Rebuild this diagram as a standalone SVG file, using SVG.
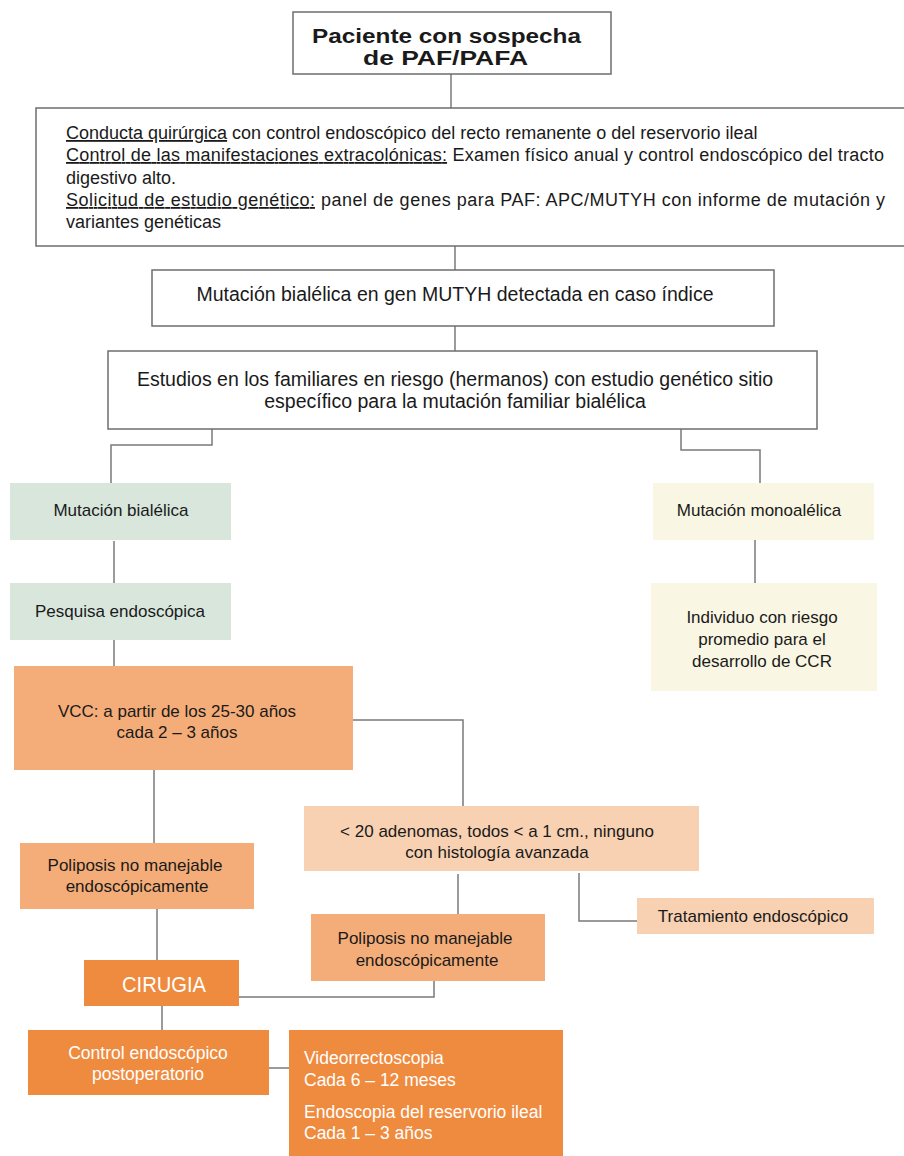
<svg xmlns="http://www.w3.org/2000/svg" width="904" height="1156" viewBox="0 0 904 1156">
<style>
text{font-family:"Liberation Sans",Arial,sans-serif;fill:#1a1a1a}
.b{stroke:#6e6e6e;stroke-width:1.5;fill:#fff}
.c{stroke:#7a7a7a;stroke-width:1.5;fill:none}
.t18{font-size:18px}
.t17{font-size:17px}
.t175{font-size:17.5px}
.t19{font-size:19.5px}
.m{text-anchor:middle}
.w{fill:#fff}
.green{fill:#d8e6dc}
.yel{fill:#f9f6e3}
.or{fill:#f4ad78}
.pe{fill:#f8d1b2}
.dk{fill:#ef8b3f}
</style>
<rect width="904" height="1156" fill="#fff"/>
<g id="connectors">
<path class="c" d="M451 74V108"/>
<path class="c" d="M455 246V270"/>
<path class="c" d="M455 326V351"/>
<path class="c" d="M212 429V445H111V488"/>
<path class="c" d="M681 429V450H760V483"/>
<path class="c" d="M114 541V583"/>
<path class="c" d="M755 540V585"/>
<path class="c" d="M114 640V667"/>
<path class="c" d="M353 720H463V810"/>
<path class="c" d="M154 770V843"/>
<path class="c" d="M458 874V917"/>
<path class="c" d="M579 873V921H637"/>
<path class="c" d="M157 909V960"/>
<path class="c" d="M434 981V997H239"/>
<path class="c" d="M162 1006V1030"/>
<path class="c" d="M269 1068H289"/>
</g>
<g id="n1">
<rect class="b" x="293" y="12" width="318" height="62"/>
<text x="312" y="43" font-size="20" font-weight="bold" textLength="269" lengthAdjust="spacingAndGlyphs">Paciente con sospecha</text>
<text x="363" y="65" font-size="20" font-weight="bold" textLength="165" lengthAdjust="spacingAndGlyphs">de PAF/PAFA</text>
</g>
<g id="n2">
<rect class="b" x="36" y="108" width="870" height="138"/>
<text x="66" y="139" class="t18"><tspan text-decoration="underline">Conducta quirúrgica</tspan> con control endoscópico del recto remanente o del reservorio ileal</text>
<text x="66" y="161" class="t18" textLength="818" lengthAdjust="spacing"><tspan text-decoration="underline">Control de las manifestaciones extracolónicas:</tspan> Examen físico anual y control endoscópico del tracto</text>
<text x="66" y="184" class="t18">digestivo alto.</text>
<text x="66" y="206" class="t18" textLength="819" lengthAdjust="spacing"><tspan text-decoration="underline">Solicitud de estudio genético:</tspan> panel de genes para PAF: APC/MUTYH con informe de mutación y</text>
<text x="66" y="228" class="t18">variantes genéticas</text>
</g>
<g id="n3">
<rect class="b" x="152" y="270" width="622" height="56"/>
<text x="455" y="301" class="m t19">Mutación bialélica en gen MUTYH detectada en caso índice</text>
</g>
<g id="n4">
<rect class="b" x="108" y="351" width="709" height="78"/>
<text x="455" y="386" class="m t19">Estudios en los familiares en riesgo (hermanos) con estudio genético sitio</text>
<text x="455" y="408" class="m t19">específico para la mutación familiar bialélica</text>
</g>
<g id="n5">
<rect class="green" x="10" y="483" width="221" height="57"/>
<text x="121" y="516" class="m t17">Mutación bialélica</text>
</g>
<g id="n6">
<rect class="yel" x="653" y="483" width="221" height="57"/>
<text x="759" y="516" class="m t17">Mutación monoalélica</text>
</g>
<g id="n7">
<rect class="green" x="10" y="583" width="221" height="57"/>
<text x="120" y="617" class="m t17">Pesquisa endoscópica</text>
</g>
<g id="n8">
<rect class="yel" x="651" y="583" width="226" height="108"/>
<text x="762" y="623" class="m t17">Individuo con riesgo</text>
<text x="762" y="645" class="m t17">promedio para el</text>
<text x="762" y="667" class="m t17">desarrollo de CCR</text>
</g>
<g id="n9">
<rect class="or" x="14" y="666" width="339" height="104"/>
<text x="177" y="717" class="m t17">VCC: a partir de los 25-30 años</text>
<text x="177" y="738" class="m t17">cada 2 – 3 años</text>
</g>
<g id="n10">
<rect class="pe" x="304" y="806" width="395" height="65"/>
<text x="497" y="837" class="m t17">&lt; 20 adenomas, todos &lt; a 1 cm., ninguno</text>
<text x="497" y="858" class="m t17">con histología avanzada</text>
</g>
<g id="n11">
<rect class="or" x="20" y="843" width="234" height="66"/>
<text x="135" y="871" class="m t17">Poliposis no manejable</text>
<text x="137" y="892" class="m t17">endoscópicamente</text>
</g>
<g id="n12">
<rect class="pe" x="637" y="898" width="237" height="36"/>
<text x="753" y="922" class="m t17">Tratamiento endoscópico</text>
</g>
<g id="n13">
<rect class="or" x="311" y="914" width="234" height="67"/>
<text x="425" y="944" class="m t17">Poliposis no manejable</text>
<text x="427" y="966" class="m t17">endoscópicamente</text>
</g>
<g id="n14">
<rect class="dk" x="84" y="960" width="155" height="46"/>
<text x="122" y="992" class="w" font-size="22" textLength="84" lengthAdjust="spacingAndGlyphs">CIRUGIA</text>
</g>
<g id="n15">
<rect class="dk" x="28" y="1030" width="241" height="65"/>
<text x="148" y="1059" class="m t175 w">Control endoscópico</text>
<text x="148" y="1080" class="m t175 w">postoperatorio</text>
</g>
<g id="n16">
<rect class="dk" x="289" y="1030" width="274" height="126"/>
<text x="304" y="1064" class="t175 w">Videorrectoscopia</text>
<text x="304" y="1086" class="t175 w">Cada 6 – 12 meses</text>
<text x="304" y="1118" class="t175 w">Endoscopia del reservorio ileal</text>
<text x="304" y="1139" class="t175 w">Cada 1 – 3 años</text>
</g>
</svg>
